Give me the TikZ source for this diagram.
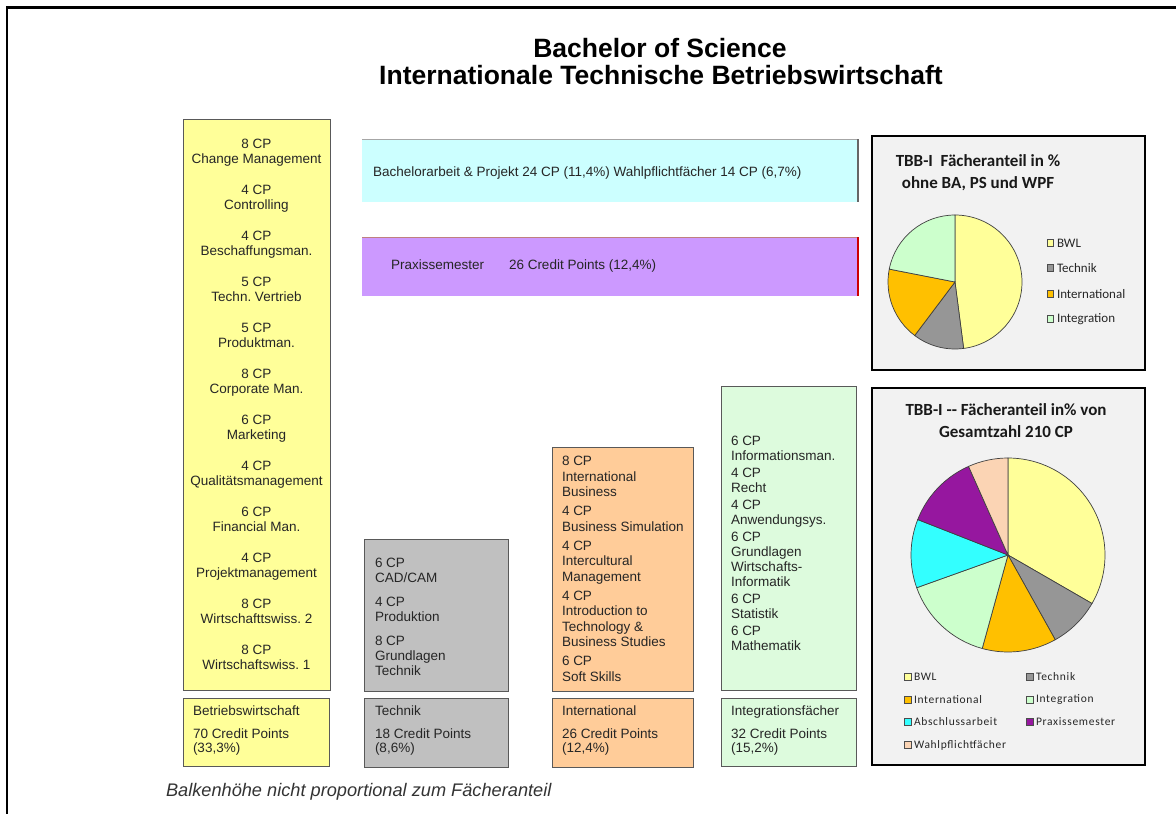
\documentclass[tikz,border=0pt]{standalone}
\usepackage{fontspec}
\setmainfont{Liberation Sans}
\newfontfamily\calfont{Carlito}
\newfontfamily\calspaced{Carlito}[LetterSpace=6]
\frenchspacing
\definecolor{ybox}{HTML}{FFFF99}
\definecolor{gbox}{HTML}{C0C0C0}
\definecolor{obox}{HTML}{FFCC99}
\definecolor{grbox}{HTML}{DDFBDD}
\definecolor{cbar}{HTML}{CCFFFF}
\definecolor{pbar}{HTML}{CC99FF}
\definecolor{panelbg}{HTML}{F2F2F2}
\definecolor{cbwl}{HTML}{FFFF99}
\definecolor{ctech}{HTML}{969696}
\definecolor{cint}{HTML}{FFC000}
\definecolor{cintg}{HTML}{CCFFCC}
\definecolor{cabs}{HTML}{33FFFF}
\definecolor{cprax}{HTML}{96179F}
\definecolor{cwahl}{HTML}{FBD4B4}
\begin{document}
\begin{tikzpicture}[x=1pt,y=-1pt,
  every node/.style={inner sep=0pt, outer sep=0pt},
  box/.style={draw=black!65, line width=1pt, anchor=north west},
  txt/.style={font=\fontsize{13.5}{15}\selectfont, text=black!85},
  ctxt/.style={txt, align=center, anchor=north},
  ltxt/.style={txt, align=left, anchor=north west},
  lbl/.style={txt, anchor=base west},
  panel/.style={draw=black, line width=2pt, fill=panelbg, anchor=north west},
  wedge/.style={draw=black!75, line width=0.7pt},
  legsq/.style={draw=black!70, line width=0.6pt, minimum size=6.5pt, anchor=center},
  legA/.style={font=\calfont\fontsize{13}{15}\selectfont, text=black!85, anchor=west},
  legB/.style={font=\calspaced\fontsize{11.5}{13}\selectfont, text=black!85, anchor=west},
  ptitle/.style={font=\calfont\bfseries\fontsize{17}{22}\selectfont, align=center, text=black!90},
]
\useasboundingbox (0,0) rectangle (1176,814);
% outer frame
\coordinate (fbl) at (7,814);
\coordinate (ftl) at (7,7.5);
\coordinate (ftr) at (1176,7.5);
\draw[line width=2.5pt] (fbl) -- (ftl) -- (ftr);

% title
\node[font=\bfseries\fontsize{26.5}{30}\selectfont] (t1) at (660,48) {Bachelor of Science};
\node[font=\bfseries\fontsize{26.5}{30}\selectfont] (t2) at (661,75) {Internationale Technische Betriebswirtschaft};

% yellow column
\node[box, fill=ybox, minimum width=147pt, minimum height=571pt] (yc) at (183,119) {};
\foreach \i/\t in {0/{8 CP\\Change Management},1/{4 CP\\Controlling},2/{4 CP\\Beschaffungsman.},
  3/{5 CP\\Techn. Vertrieb},4/{5 CP\\Produktman.},5/{8 CP\\Corporate Man.},6/{6 CP\\Marketing},
  7/{4 CP\\Qualitätsmanagement},8/{6 CP\\Financial Man.},9/{4 CP\\Projektmanagement},
  10/{8 CP\\Wirtschafttswiss. 2},11/{8 CP\\Wirtschaftswiss. 1}}
  \node[ctxt] (ye\i) at (256.5,139.5+46*\i) {\t};
\node[box, fill=ybox, minimum width=146pt, minimum height=68pt] (yl) at (183,698) {};
\node[lbl] (yl1) at (193,715.7) {Betriebswirtschaft};
\node[lbl] (yl2) at (193,738.7) {70 Credit Points};
\node[lbl] (yl3) at (193,752.7) {(33,3\%)};

% cyan bar
\node[fill=cbar, minimum width=496pt, minimum height=63pt, anchor=north west] (cb) at (362,139) {};
\draw[black!35, line width=0.8pt] (cb.north west) -- (cb.north east);
\draw[black!60, line width=1.2pt] (cb.north east) -- (cb.south east);
\node[lbl] (cbt) at (373,176.7) {Bachelorarbeit \& Projekt 24 CP (11,4\%) Wahlpflichtfächer 14 CP (6,7\%)};

% purple bar
\node[fill=pbar, minimum width=496pt, minimum height=59pt, anchor=north west] (pb) at (362,237) {};
\draw[red!50!black!50, line width=0.8pt] (pb.north west) -- (pb.north east);
\draw[red!80!black, line width=1.2pt] (pb.north east) -- (pb.south east);
\node[lbl] (pbt1) at (391,269.7) {Praxissemester};
\node[lbl] (pbt2) at (509,269.7) {26 Credit Points (12,4\%)};

% Technik
\node[box, fill=gbox, minimum width=144pt, minimum height=152pt] (gc) at (364,539) {};
\node[ltxt] (gct) at (375,558.3) {6 CP\\CAD/CAM\\[9pt]4 CP\\Produktion\\[9pt]8 CP\\Grundlagen\\Technik};
\node[box, fill=gbox, minimum width=144pt, minimum height=69pt] (gl) at (364,698) {};
\node[lbl] (gl1) at (375,715.7) {Technik};
\node[lbl] (gl2) at (375,738.7) {18 Credit Points};
\node[lbl] (gl3) at (375,752.7) {(8,6\%)};

% International
\node[box, fill=obox, minimum width=141pt, minimum height=244pt] (oc) at (552,447) {};
\node[ltxt, font=\fontsize{13.5}{15.5}\selectfont] (oct) at (562,456.5) {8 CP\\International\\Business\\[3.5pt]4 CP\\Business Simulation\\[3.5pt]4 CP\\Intercultural\\Management\\[3.5pt]4 CP\\Introduction to\\Technology \&\\Business Studies\\[3.5pt]6 CP\\Soft Skills};
\node[box, fill=obox, minimum width=141pt, minimum height=69pt] (ol) at (552,698) {};
\node[lbl] (ol1) at (562,715.7) {International};
\node[lbl] (ol2) at (562,738.7) {26 Credit Points};
\node[lbl] (ol3) at (562,752.7) {(12,4\%)};

% Integration
\node[box, fill=grbox, minimum width=135pt, minimum height=304pt] (ic) at (721,386) {};
\node[ltxt] (ict) at (731,436.3) {6 CP\\Informationsman.\\[2pt]4 CP\\Recht\\[2pt]4 CP\\Anwendungsys.\\[2pt]6 CP\\Grundlagen\\Wirtschafts-\\Informatik\\[2pt]6 CP\\Statistik\\[2pt]6 CP\\Mathematik};
\node[box, fill=grbox, minimum width=135pt, minimum height=68pt] (il) at (721,698) {};
\node[lbl] (il1) at (731,715.7) {Integrationsfächer};
\node[lbl] (il2) at (731,738.7) {32 Credit Points};
\node[lbl] (il3) at (731,752.7) {(15,2\%)};

% footer
\node[font=\itshape\fontsize{18.2}{20}\selectfont, text=black!80, anchor=base west] (foot) at (166,796) {Balkenhöhe nicht proportional zum Fächeranteil};

% panel 1
\node[panel, minimum width=273pt, minimum height=234pt] (pn1) at (872,136) {};
\node[ptitle] (pt1) at (978,173) {TBB-I\ \ Fächeranteil in \%\\ohne BA, PS und WPF};
\begin{scope}[shift={(955,282)}, y=1pt]
  \coordinate (pc1) at (0,0);
  \filldraw[wedge, fill=cbwl] (pc1) -- (90:67) arc[start angle=90, end angle=-82.60, radius=67] -- cycle;
  \filldraw[wedge, fill=ctech] (pc1) -- (-82.60:67) arc[start angle=-82.60, end angle=-126.99, radius=67] -- cycle;
  \filldraw[wedge, fill=cint] (pc1) -- (-126.99:67) arc[start angle=-126.99, end angle=-191.10, radius=67] -- cycle;
  \filldraw[wedge, fill=cintg] (pc1) -- (-191.10:67) arc[start angle=-191.10, end angle=-270, radius=67] -- cycle;
\end{scope}
\foreach \n/\c/\t/\yy in {1/cbwl/BWL/243, 2/ctech/Technik/268, 3/cint/International/294, 4/cintg/Integration/319}{
  \node[legsq, fill=\c] (la\n) at (1050.5,\yy) {};
  \node[legA] (lat\n) at (1057,\yy) {\t};
}

% panel 2
\node[panel, minimum width=273pt, minimum height=377pt] (pn2) at (872,388) {};
\node[ptitle] (pt2) at (1006,420.5) {TBB-I -- Fächeranteil in\% von\\Gesamtzahl 210 CP};
\begin{scope}[shift={(1008,555)}, y=1pt]
  \coordinate (pc2) at (0,0);
  \filldraw[wedge, fill=cbwl] (pc2) -- (90:97) arc[start angle=90, end angle=-30, radius=97] -- cycle;
  \filldraw[wedge, fill=ctech] (pc2) -- (-30:97) arc[start angle=-30, end angle=-60.857, radius=97] -- cycle;
  \filldraw[wedge, fill=cint] (pc2) -- (-60.857:97) arc[start angle=-60.857, end angle=-105.429, radius=97] -- cycle;
  \filldraw[wedge, fill=cintg] (pc2) -- (-105.429:97) arc[start angle=-105.429, end angle=-160.286, radius=97] -- cycle;
  \filldraw[wedge, fill=cabs] (pc2) -- (-160.286:97) arc[start angle=-160.286, end angle=-201.429, radius=97] -- cycle;
  \filldraw[wedge, fill=cprax] (pc2) -- (-201.429:97) arc[start angle=-201.429, end angle=-246, radius=97] -- cycle;
  \filldraw[wedge, fill=cwahl] (pc2) -- (-246:97) arc[start angle=-246, end angle=-270, radius=97] -- cycle;
\end{scope}
\foreach \n/\c/\t/\xx/\yy in {1/cbwl/BWL/908/677, 2/ctech/Technik/1030/677, 3/cint/International/908/700, 4/cintg/Integration/1030/700,
  5/cabs/Abschlussarbeit/908/722, 6/cprax/Praxissemester/1030/722, 7/cwahl/Wahlpflichtfächer/908/745}{
  \node[legsq, fill=\c] (lb\n) at (\xx,\yy) {};
  \node[legB] (lbt\n) at (\xx+6,\yy) {\t};
}
\end{tikzpicture}
\end{document}
